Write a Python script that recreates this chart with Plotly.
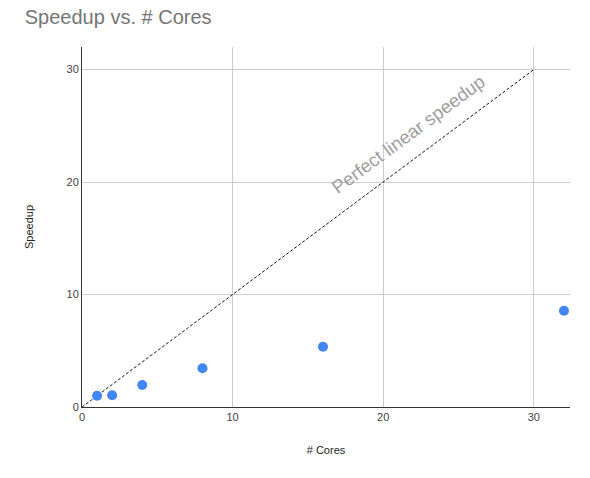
import plotly.graph_objects as go

# Measured speedup for each core count
cores = [1, 2, 4, 8, 16, 32]
speedup = [1.0, 1.05, 1.95, 3.45, 5.35, 8.55]

# Ideal speedup reference line
ideal_x = [0, 30]
ideal_y = [0, 30]

fig = go.Figure()

fig.add_trace(go.Scatter(
    x=ideal_x, y=ideal_y, mode="lines",
    line=dict(color="#111111", width=1, dash="3px,2px"),
    hoverinfo="skip", showlegend=False,
))

fig.add_trace(go.Scatter(
    x=cores, y=speedup, mode="markers",
    marker=dict(color="#4285F4", size=10),
    showlegend=False,
))

fig.add_annotation(
    x=21.65, y=24.2, text="Perfect linear speedup", showarrow=False,
    textangle=-36.5, font=dict(family="Arial, Liberation Sans", size=18.5, color="#9e9e9e"),
)

fig.update_layout(
    width=590, height=478,
    margin=dict(l=82, r=20, t=47, b=71),
    paper_bgcolor="white", plot_bgcolor="white",
    font=dict(family="Arial, Liberation Sans", size=11, color="#444444"),
    title=dict(
        text="Speedup vs. # Cores", x=0.042, xanchor="left", y=0.965, yanchor="middle",
        font=dict(family="Arial, Liberation Sans", size=20, color="#757575"),
    ),
)

fig.update_xaxes(
    range=[0, 32.4], tickvals=[0, 10, 20, 30],
    showgrid=True, gridcolor="#cccccc", zeroline=False,
    showline=True, linecolor="#333333", linewidth=1,
    ticks="", ticklen=0,
    title=dict(text="# Cores", font=dict(size=11, color="#222222"), standoff=24),
)
fig.update_yaxes(
    range=[0, 32.0], tickvals=[0, 10, 20, 30],
    showgrid=True, gridcolor="#cccccc", zeroline=False,
    showline=True, linecolor="#333333", linewidth=1,
    ticks="", ticklen=0,
    title=dict(text="Speedup", font=dict(size=11, color="#222222"), standoff=30),
)

fig.write_html("out.html")
